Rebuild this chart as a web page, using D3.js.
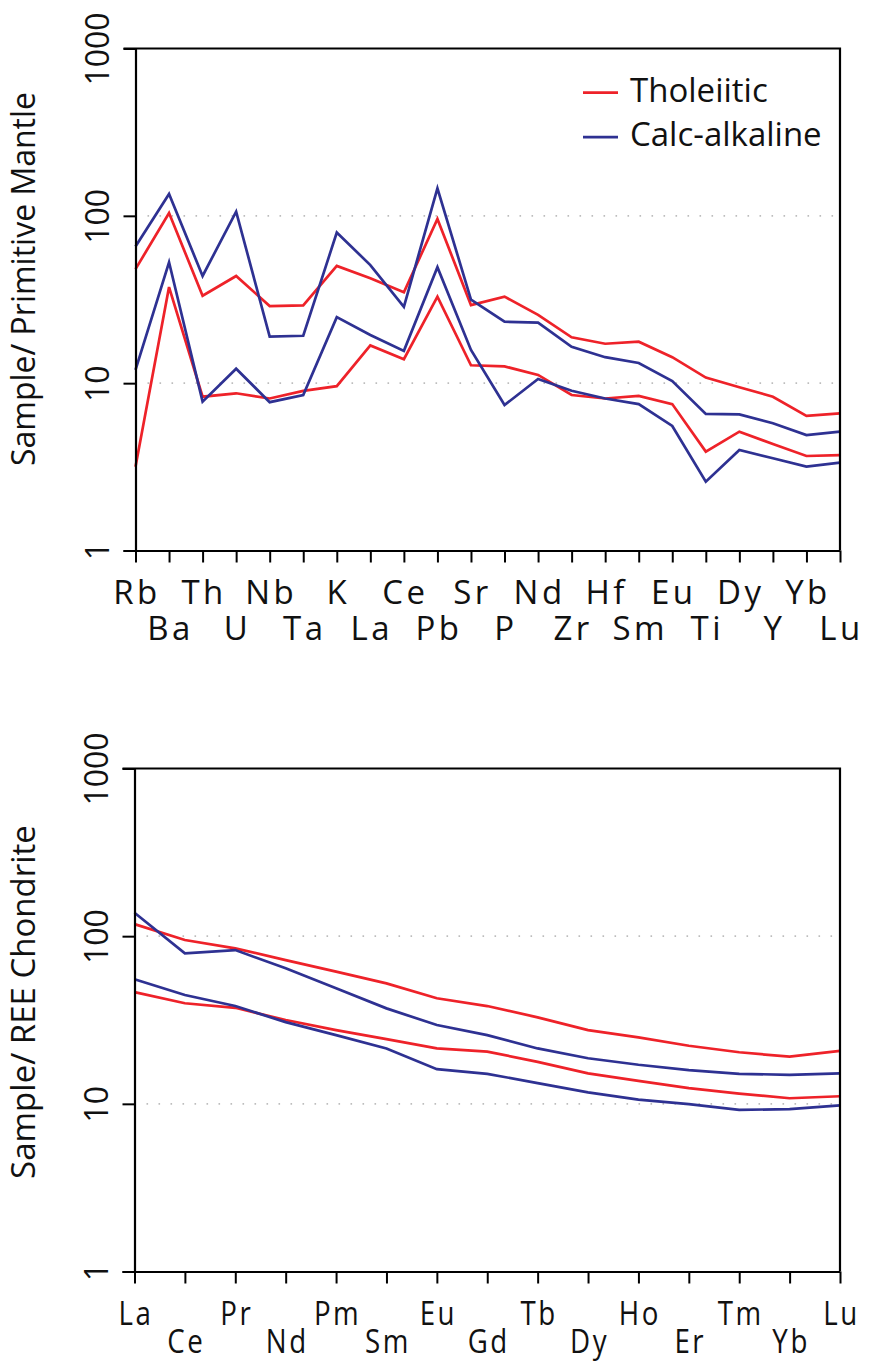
<!DOCTYPE html>
<html>
<head>
<meta charset="utf-8">
<script src="https://cdn.jsdelivr.net/npm/d3@7"></script>
<style>
  body { margin: 0; background: #fff; }
  svg text { font-family: "Open Sans", "Noto Sans", sans-serif; fill: #111; }
</style>
</head>
<body>
<div id="chart"></div>
<script>
// ---- data ----
const spiderElements = ['Rb', 'Ba', 'Th', 'U', 'Nb', 'Ta', 'K', 'La', 'Ce', 'Pb', 'Sr',
    'P', 'Nd', 'Zr', 'Hf', 'Sm', 'Eu', 'Ti', 'Dy', 'Y', 'Yb', 'Lu'];
const spiderTholUpper = [48, 104, 33.3, 43.7, 28.9, 29.2, 50.2, 42.4, 34.9, 95.8, 29.3,
    32.9, 25.6, 18.8, 17.2, 17.7, 14.3, 10.8, 9.45, 8.3, 6.37, 6.6];
const spiderTholLower = [3.17, 37.5, 8.3, 8.7, 8.1, 9.0, 9.6, 16.8, 13.9, 32.9, 12.8,
    12.6, 11.2, 8.5, 8.1, 8.4, 7.5, 3.9, 5.13, 4.33, 3.67, 3.72];
const spiderCalcUpper = [65.5, 135, 43.7, 106, 19.0, 19.2, 79.4, 50.8, 28.6, 146, 31.6,
    23.3, 23.0, 16.5, 14.3, 13.2, 10.3, 6.55, 6.5, 5.76, 4.9, 5.13];
const spiderCalcLower = [12.0, 52.8, 7.75, 12.2, 7.7, 8.5, 24.8, 19.4, 15.6, 49.3, 15.8,
    7.4, 10.6, 9.0, 8.1, 7.5, 5.55, 2.58, 3.99, 3.56, 3.17, 3.35];

const reeElements = ['La', 'Ce', 'Pr', 'Nd', 'Pm', 'Sm', 'Eu', 'Gd', 'Tb', 'Dy', 'Ho',
    'Er', 'Tm', 'Yb', 'Lu'];
const reeTholUpper = [118, 94.8, 84.6, 72, 61.4, 52.3, 42.6, 38.3, 32.8, 27.5, 24.9,
    22.2, 20.3, 19.1, 20.7];
const reeTholLower = [46.4, 39.8, 37.4, 31.6, 27.5, 24.3, 21.4, 20.5, 17.8, 15.2, 13.7,
    12.4, 11.5, 10.8, 11.1];
const reeCalcUpper = [138, 79, 82.6, 64.3, 48.9, 37.1, 29.5, 25.7, 21.4, 18.7, 17.1,
    15.9, 15.1, 14.9, 15.2];
const reeCalcLower = [55.3, 44.6, 38.3, 30.7, 25.7, 21.4, 16.1, 15.1, 13.3, 11.7, 10.6,
    9.95, 9.2, 9.3, 9.8];

const yTicks = [1, 10, 100, 1000];
const gridValues = [10, 100];
const legendLabels = ['Tholeiitic', 'Calc-alkaline'];

const RED = '#ee2229';
const BLUE = '#2e3192';

const svg = d3.select('#chart')
    .append('svg')
    .attr('width', 872)
    .attr('height', 1362);

function drawPanel(p) {
    const x = d3.scalePoint().domain(p.elements).range([p.left, p.right]);
    const y = d3.scaleLog().domain([1, 1000]).range([p.bottom, p.top]);
    const g = svg.append('g');

    // dotted gridlines at 10 and 100
    g.selectAll('.grid')
        .data(gridValues)
        .join('line')
        .attr('class', 'grid')
        .attr('x1', p.left + 12)
        .attr('x2', p.right - 2)
        .attr('y1', d => y(d))
        .attr('y2', d => y(d))
        .attr('stroke', '#bdbdbd')
        .attr('stroke-width', 1.6)
        .attr('stroke-dasharray', '1.6,10.4');

    const line = d3.line()
        .x((d, i) => x(p.elements[i]))
        .y(d => y(d));

    p.series.forEach(s => {
        g.append('path')
            .attr('d', line(s.values))
            .attr('fill', 'none')
            .attr('stroke', s.color)
            .attr('stroke-width', 2.7);
    });

    // frame top + right
    g.append('path')
        .attr('d', `M${p.left - 12},${p.top}H${p.right}V${p.bottom}`)
        .attr('fill', 'none')
        .attr('stroke', '#000')
        .attr('stroke-width', 2.2);

    // y axis
    const yAxis = g.append('g')
        .attr('transform', `translate(${p.left},0)`)
        .call(d3.axisLeft(y).tickValues(yTicks).tickSize(12).tickSizeOuter(0)
            .tickFormat(d3.format('d')));
    yAxis.select('.domain').attr('stroke-width', 2.2);
    yAxis.selectAll('.tick line').attr('stroke-width', 2);
    yAxis.selectAll('.tick text')
        .attr('x', 0)
        .attr('dy', 0)
        .attr('text-anchor', 'middle')
        .attr('transform', 'translate(-27,0) rotate(-90)')
        .style('font-size', '32px');
    yAxis.attr('font-family', null).attr('font-size', null);

    // x axis
    const xAxis = g.append('g')
        .attr('transform', `translate(0,${p.bottom})`)
        .call(d3.axisBottom(x).tickSize(12).tickSizeOuter(0).tickFormat(''));
    xAxis.select('.domain').attr('stroke-width', 2.2)
        .attr('d', `M${p.left - 12},0.5H${p.right}`);
    xAxis.selectAll('.tick line').attr('stroke-width', 2);

    // staggered element labels
    g.selectAll('.elem')
        .data(p.elements)
        .join('text')
        .attr('class', 'elem')
        .attr('text-anchor', 'middle')
        .attr('transform', (d, i) =>
            `translate(${x(d) + 1.5},${i % 2 === 0 ? p.row1 : p.row2}) scale(${p.squeeze},1)`)
        .style('font-size', p.labelSize + 'px')
        .style('letter-spacing', p.spacing + 'px')
        .text(d => d);

    // y title
    g.append('text')
        .attr('text-anchor', 'middle')
        .attr('transform', `translate(35,${p.titleY}) rotate(-90)`)
        .style('font-size', p.titleSize + 'px')
        .text(p.title);

    return { x, y, g };
}

const topPanel = drawPanel({
    elements: spiderElements,
    left: 135.5, right: 840, top: 48.5, bottom: 550.5,
    row1: 604, row2: 640, squeeze: 1, spacing: 3.5, labelSize: 33,
    title: 'Sample/ Primitive Mantle', titleY: 279, titleSize: 32,
    series: [
        { values: spiderTholUpper, color: RED },
        { values: spiderTholLower, color: RED },
        { values: spiderCalcUpper, color: BLUE },
        { values: spiderCalcLower, color: BLUE }
    ]
});

drawPanel({
    elements: reeElements,
    left: 134.5, right: 840, top: 768.5, bottom: 1271.5,
    row1: 1325, row2: 1353, squeeze: 0.84, spacing: 3, labelSize: 33,
    title: 'Sample/ REE Chondrite', titleY: 1002, titleSize: 33,
    series: [
        { values: reeTholUpper, color: RED },
        { values: reeTholLower, color: RED },
        { values: reeCalcUpper, color: BLUE },
        { values: reeCalcLower, color: BLUE }
    ]
});

// legend (top panel only)
const legend = topPanel.g.append('g')
    .selectAll('g')
    .data(legendLabels)
    .join('g')
    .attr('transform', (d, i) => `translate(583,${92.7 + i * 44.5})`);
legend.append('line')
    .attr('x1', 0).attr('x2', 35)
    .attr('stroke', (d, i) => i === 0 ? RED : BLUE)
    .attr('stroke-width', 2.7);
legend.append('text')
    .attr('x', 47)
    .attr('y', 9)
    .style('font-size', '33px')
    .text(d => d);
</script>
</body>
</html>
